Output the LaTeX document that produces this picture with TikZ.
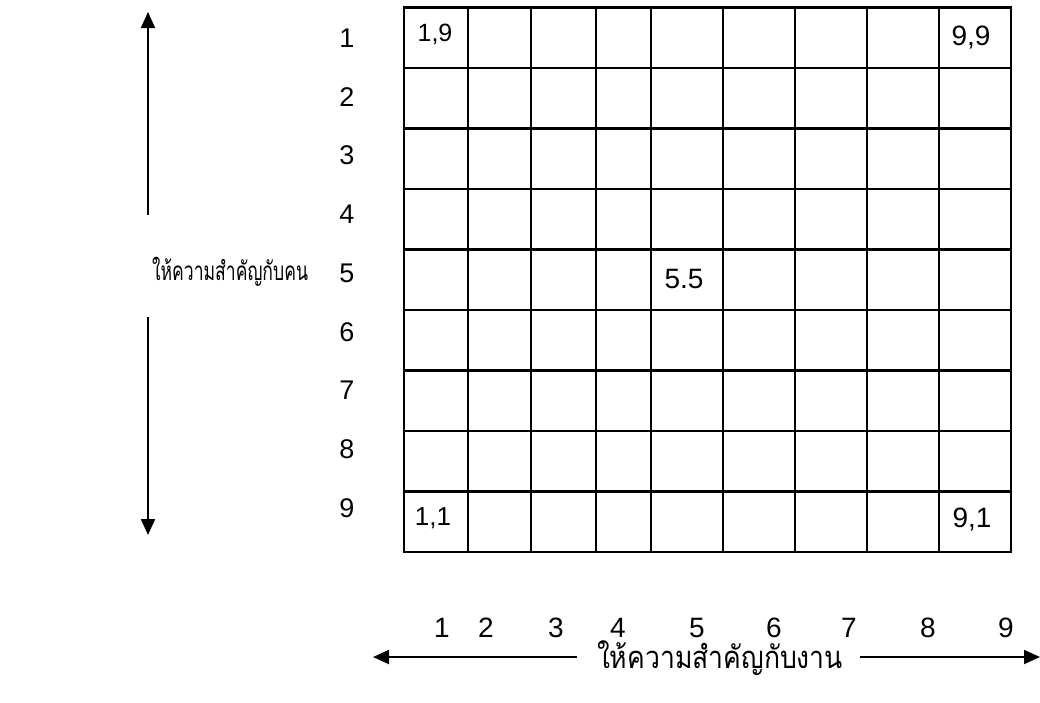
\documentclass[tikz,border=0pt]{standalone}
\usepackage{fontspec}
\usepackage{graphicx}
\setmainfont{Liberation Sans}
\newfontfamily\thaifont[Script=Thai]{Loma}
\usetikzlibrary{arrows.meta}
\begin{document}
\begin{tikzpicture}[x=1pt,y=-1pt,
  gridline/.style={line width=2.2pt,line cap=rect},
  axarrow/.style={line width=1.8pt,-{Triangle[length=16pt,width=14pt]}},
  num/.style={font=\fontsize{27}{30}\selectfont,inner sep=0pt},
  cell/.style={font=\fontsize{28}{30}\selectfont,inner sep=0pt},
  thai/.style={inner sep=0pt}]
\useasboundingbox (0,0) rectangle (1040,702);
% grid
\foreach \x in {404,468,531,596,651,723,795,867,939,1011}
  \draw[gridline] (\x,7.5) -- (\x,552);
\foreach \i in {0,...,9}
  \draw[gridline] (404,{7.5+60.5*\i}) -- (1011,{7.5+60.5*\i});
% row labels
\foreach \i in {1,...,9}
  \node[num] (r\i) at (347,{38+58.75*(\i-1)}) {\i};
% column labels
\foreach \n/\x in {1/442,2/486,3/556,4/618,5/697,6/774,7/849,8/928,9/1006}
  \node[num,font=\fontsize{28}{30}\selectfont] (c\n) at (\x,628) {\n};
% cell labels
\node[cell,font=\fontsize{25}{28}\selectfont] (p19) at (435,34) {1,9};
\node[cell] (p99) at (971,38) {9,9};
\node[cell,font=\fontsize{26}{28}\selectfont] (p11) at (433,518) {1,1};
\node[cell] (p91) at (972,520) {9,1};
\node[cell] (p55) at (684,279) {5.5};
% vertical axis
\node[thai,font=\thaifont\fontsize{26}{29}\selectfont] (ylab) at (230,272) {\resizebox{156pt}{\height}{ให้ความสำคัญกับคน}};
\coordinate (yup0) at (148,215);
\coordinate (yup1) at (148,12);
\coordinate (ydn0) at (148,317);
\coordinate (ydn1) at (148,535);
\draw[axarrow] (yup0) -- (yup1);
\draw[axarrow] (ydn0) -- (ydn1);
% horizontal axis
\node[thai,font=\thaifont\fontsize{31}{34}\selectfont] (xlab) at (720,658) {\resizebox{246pt}{\height}{ให้ความสำคัญกับงาน}};
\coordinate (xl0) at (577,657);
\coordinate (xl1) at (373,657);
\coordinate (xr0) at (860,657);
\coordinate (xr1) at (1040,657);
\draw[axarrow] (xl0) -- (xl1);
\draw[axarrow] (xr0) -- (xr1);
\end{tikzpicture}
\end{document}
